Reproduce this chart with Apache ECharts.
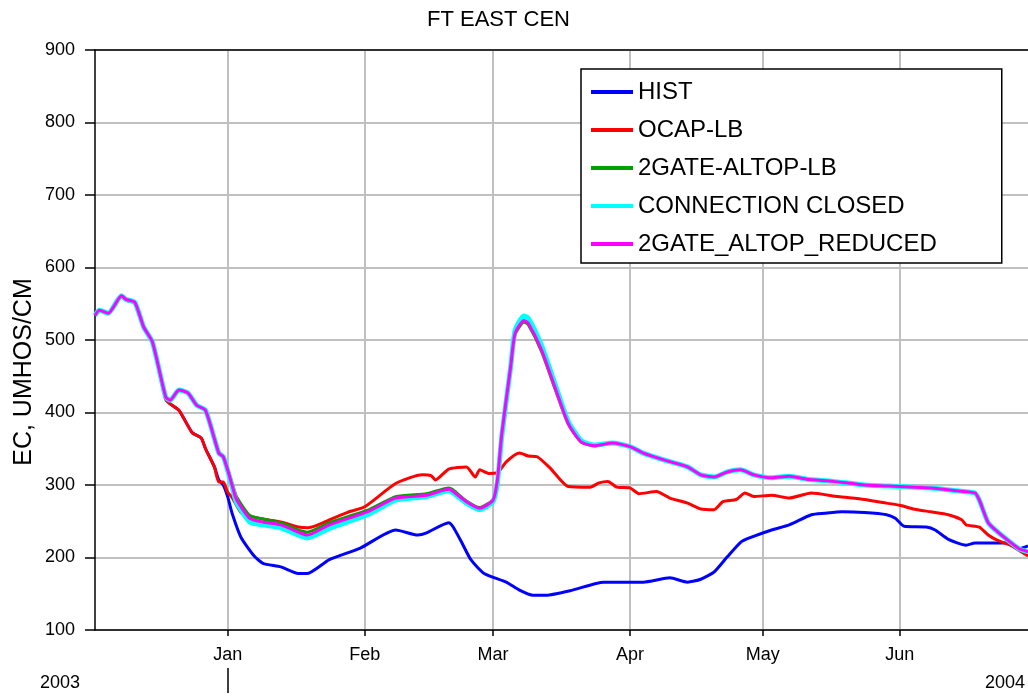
<!DOCTYPE html>
<html>
<head>
<meta charset="utf-8">
<title>FT EAST CEN</title>
<script src="https://cdn.jsdelivr.net/npm/echarts@6.0.0/dist/echarts.min.js"></script>
<style>
    html, body { margin: 0; padding: 0; background: #fff; }
    #lineChart { width: 1028px; height: 698px; }
</style>
</head>
<body>
<div id="lineChart"></div>
<script>
    // axis range + tick labels
    const xStart = '2003-12-02'
    const xEnd = '2004-06-30'
    const monthTicks = ['2004-01-01', '2004-02-01', '2004-03-01', '2004-04-01', '2004-05-01', '2004-06-01']
    const monthNames = ['Jan', 'Feb', 'Mar', 'Apr', 'May', 'Jun']
    const yearTicks = ['2004-01-01']
    const yearLabels = ['2003', '2004']

    const seriesNames = ['HIST', 'OCAP-LB', '2GATE-ALTOP-LB', 'CONNECTION CLOSED', '2GATE_ALTOP_REDUCED']

    // HIST
    const histDates = ['2003-12-02', '2003-12-03', '2003-12-05', '2003-12-08', '2003-12-09', '2003-12-11', '2003-12-13',
        '2003-12-15', '2003-12-18', '2003-12-19', '2003-12-21', '2003-12-24', '2003-12-26', '2003-12-27', '2003-12-29',
        '2003-12-30', '2003-12-31', '2004-01-01', '2004-01-02', '2004-01-04', '2004-01-07', '2004-01-09', '2004-01-13',
        '2004-01-17', '2004-01-19', '2004-01-24', '2004-01-31', '2004-02-08', '2004-02-13', '2004-02-15', '2004-02-20',
        '2004-02-21', '2004-02-23', '2004-02-25', '2004-02-28', '2004-03-04', '2004-03-07', '2004-03-10', '2004-03-13',
        '2004-03-19', '2004-03-26', '2004-04-01', '2004-04-04', '2004-04-10', '2004-04-14', '2004-04-17', '2004-04-20',
        '2004-04-23', '2004-04-26', '2004-04-28', '2004-05-03', '2004-05-07', '2004-05-12', '2004-05-15', '2004-05-19',
        '2004-05-24', '2004-05-29', '2004-05-31', '2004-06-02', '2004-06-07', '2004-06-09', '2004-06-12', '2004-06-16',
        '2004-06-18', '2004-06-22', '2004-06-25', '2004-06-28', '2004-06-30']
    const histValues = [534, 541, 537, 560, 555, 551, 517,
        496, 418, 412, 403, 372, 365, 350, 325,
        307, 300, 284, 261, 228, 202, 192, 187,
        178, 178, 197, 213, 238, 231, 234, 248,
        242, 220, 197, 178, 166, 155, 148, 148,
        155, 166, 166, 166, 172, 166, 170, 180,
        201, 221, 227, 238, 245, 259, 261, 263,
        262, 259, 254, 243, 242, 238, 225, 217,
        220, 220, 220, 212, 216]

    // OCAP-LB
    const ocapDates = ['2003-12-02', '2003-12-03', '2003-12-05', '2003-12-08', '2003-12-09', '2003-12-11', '2003-12-13',
        '2003-12-15', '2003-12-18', '2003-12-19', '2003-12-21', '2003-12-24', '2003-12-26', '2003-12-27', '2003-12-29',
        '2003-12-30', '2003-12-31', '2004-01-01', '2004-01-02', '2004-01-04', '2004-01-06', '2004-01-09', '2004-01-13',
        '2004-01-17', '2004-01-19', '2004-01-21', '2004-01-24', '2004-01-28', '2004-02-01', '2004-02-08', '2004-02-14',
        '2004-02-16', '2004-02-17', '2004-02-20', '2004-02-24', '2004-02-26', '2004-02-27', '2004-02-29', '2004-03-02',
        '2004-03-04', '2004-03-07', '2004-03-09', '2004-03-11', '2004-03-14', '2004-03-18', '2004-03-23', '2004-03-25',
        '2004-03-27', '2004-03-29', '2004-04-01', '2004-04-03', '2004-04-07', '2004-04-10', '2004-04-14', '2004-04-17',
        '2004-04-20', '2004-04-22', '2004-04-25', '2004-04-27', '2004-04-29', '2004-05-03', '2004-05-07', '2004-05-12',
        '2004-05-18', '2004-05-24', '2004-05-29', '2004-06-01', '2004-06-04', '2004-06-08', '2004-06-12', '2004-06-15',
        '2004-06-16', '2004-06-19', '2004-06-21', '2004-06-23', '2004-06-26', '2004-06-30']
    const ocapValues = [534, 541, 537, 560, 555, 551, 517,
        496, 418, 412, 403, 372, 365, 350, 325,
        304, 304, 290, 283, 262, 257, 253, 249,
        242, 241, 244, 252, 262, 270, 302, 314,
        313, 307, 322, 325, 311, 321, 316, 317,
        332, 344, 340, 339, 323, 298, 297, 303,
        305, 297, 296, 288, 291, 282, 275, 267,
        266, 277, 280, 289, 284, 286, 282, 289,
        284, 280, 275, 272, 267, 263, 259, 252,
        245, 242, 231, 224, 217, 202]

    // 2GATE-ALTOP-LB / CONNECTION CLOSED / 2GATE_ALTOP_REDUCED share dates
    const altDates = ['2003-12-02', '2003-12-03', '2003-12-05', '2003-12-08', '2003-12-09', '2003-12-11', '2003-12-13',
        '2003-12-15', '2003-12-18', '2003-12-19', '2003-12-21', '2003-12-23', '2003-12-25', '2003-12-27', '2003-12-30',
        '2003-12-31', '2004-01-01', '2004-01-02', '2004-01-03', '2004-01-06', '2004-01-09', '2004-01-13', '2004-01-17',
        '2004-01-19', '2004-01-24', '2004-02-02', '2004-02-08', '2004-02-15', '2004-02-20', '2004-02-21', '2004-02-24',
        '2004-02-27', '2004-03-01', '2004-03-02', '2004-03-03', '2004-03-05', '2004-03-06', '2004-03-08', '2004-03-09',
        '2004-03-12', '2004-03-15', '2004-03-18', '2004-03-21', '2004-03-24', '2004-03-28', '2004-04-01', '2004-04-04',
        '2004-04-09', '2004-04-14', '2004-04-17', '2004-04-20', '2004-04-23', '2004-04-26', '2004-04-29', '2004-05-03',
        '2004-05-07', '2004-05-11', '2004-05-17', '2004-05-24', '2004-06-01', '2004-06-08', '2004-06-14', '2004-06-18',
        '2004-06-19', '2004-06-21', '2004-06-23', '2004-06-25', '2004-06-28', '2004-06-30']
    const gateLbValues = [534, 541, 537, 561, 556, 552, 518,
        497, 421, 417, 431, 427, 410, 403, 344,
        339, 322, 303, 284, 258, 253, 248, 238,
        235, 248, 266, 284, 288, 296, 293, 278,
        269, 280, 306, 369, 461, 507, 525, 521,
        484, 433, 384, 359, 354, 358, 353, 344,
        334, 325, 314, 311, 318, 321, 314, 310,
        312, 308, 305, 300, 298, 296, 292, 289,
        279, 248, 236, 226, 212, 208]
    const closedValues = [534, 541, 537, 561, 556, 552, 518,
        497, 421, 417, 431, 427, 410, 403, 344,
        339, 320, 298, 276, 249, 245, 241, 231,
        227, 240, 260, 279, 284, 292, 289, 275,
        266, 277, 303, 368, 463, 513, 533, 530,
        492, 440, 388, 361, 355, 358, 353, 344,
        334, 325, 314, 311, 318, 321, 314, 310,
        312, 308, 305, 300, 298, 296, 292, 289,
        279, 248, 236, 226, 212, 208]
    const reducedValues = [534, 541, 537, 561, 556, 552, 518,
        497, 421, 417, 431, 427, 410, 403, 344,
        339, 321, 300, 280, 254, 249, 245, 235,
        231, 245, 264, 282, 286, 294, 291, 277,
        268, 279, 307, 371, 463, 509, 527, 523,
        486, 435, 385, 359, 354, 358, 353, 344,
        334, 325, 314, 311, 318, 321, 314, 310,
        312, 308, 305, 300, 298, 296, 292, 289,
        279, 248, 236, 226, 212, 208]

    const colorList = ['#0000ff', '#ff0000', '#00a000', '#00ffff', '#ff00ff']
    const widthList = [3, 3, 3, 5, 3]
    const FONT = 'Liberation Sans, Arial, sans-serif'

    // local-time timestamp
    function ts(s) {
        let p = s.split('-').map(Number)
        return new Date(p[0], p[1] - 1, p[2]).getTime()
    }

    function pairs(dates, vals) {
        return dates.map((d, i) => [ts(d), vals[i]])
    }

    const seriesData = [
        pairs(histDates, histValues),
        pairs(ocapDates, ocapValues),
        pairs(altDates, gateLbValues),
        pairs(altDates, closedValues),
        pairs(altDates, reducedValues)
    ]

    let series = seriesNames.map((name, i) => ({
        name: name,
        type: 'line',
        xAxisIndex: 0,
        data: seriesData[i],
        showSymbol: false,
        symbol: 'none',
        smooth: 0.2,
        lineStyle: { width: widthList[i], color: colorList[i] },
        itemStyle: { color: colorList[i] },
        emphasis: { disabled: true }
    }))

    // date axes drawn as plain value axes (ms), ticks placed on month starts
    function dateAxis(extra) {
        return Object.assign({
            type: 'value',
            min: ts(xStart),
            max: ts(xEnd),
            scale: true,
            axisLine: { show: false },
            axisTick: { show: false },
            axisLabel: { show: false },
            splitLine: { show: false }
        }, extra)
    }

    let myChart = echarts.init(document.getElementById('lineChart'))
    myChart.setOption({
        animation: false,
        color: colorList,
        title: {
            text: 'FT EAST CEN',
            left: 427,
            top: 9,
            padding: 0,
            textStyle: { fontFamily: FONT, fontSize: 22, fontWeight: 'normal', color: '#000' }
        },
        grid: { left: 95, right: 0, top: 50, bottom: 68 },
        legend: {
            data: seriesNames,
            orient: 'vertical',
            left: 581,
            top: 69,
            icon: 'rect',
            itemWidth: 42,
            itemHeight: 4,
            itemGap: 14,
            padding: [11, 65, 7, 10],
            backgroundColor: '#fff',
            borderColor: '#000',
            borderWidth: 1.5,
            borderRadius: 0,
            selectedMode: false,
            textStyle: { fontFamily: FONT, fontSize: 24, color: '#000' }
        },
        xAxis: [
            dateAxis({
                axisLine: { show: true, onZero: false, lineStyle: { color: '#000', width: 1.5 } },
                axisTick: { show: true, length: 6, inside: false, lineStyle: { color: '#000', width: 1.5 },
                    customValues: monthTicks.map(ts) },
                axisLabel: {
                    show: true,
                    customValues: monthTicks.map(ts),
                    margin: 16,
                    color: '#000',
                    fontFamily: FONT,
                    fontSize: 18,
                    formatter: v => monthNames[new Date(v).getMonth()]
                },
                splitLine: { show: true, lineStyle: { color: '#c0c0c0', width: 2 } }
            }),
            // top border
            dateAxis({
                position: 'top',
                axisLine: { show: true, onZero: false, lineStyle: { color: '#000', width: 1.5 } }
            }),
            // year separator
            dateAxis({
                position: 'bottom',
                offset: 38,
                axisTick: { show: true, length: 25, inside: false, lineStyle: { color: '#000', width: 1.5 },
                    customValues: yearTicks.map(ts) }
            })
        ],
        yAxis: {
            type: 'value',
            min: 100,
            max: 900,
            interval: 100,
            axisLine: { show: true, lineStyle: { color: '#000', width: 1.5 } },
            axisTick: { show: true, length: 10, inside: false, lineStyle: { color: '#000', width: 1.5 } },
            axisLabel: { margin: 20, color: '#000', fontFamily: FONT, fontSize: 18 },
            splitLine: { show: true, lineStyle: { color: '#c0c0c0', width: 2 } }
        },
        graphic: [
            {
                type: 'text', x: 24, y: 372, rotation: Math.PI / 2,
                style: { text: 'EC, UMHOS/CM', font: '25px ' + FONT, fill: '#000', align: 'center', verticalAlign: 'middle' }
            },
            {
                type: 'text', x: 60, y: 683,
                style: { text: yearLabels[0], font: '18px ' + FONT, fill: '#000', align: 'center', verticalAlign: 'middle' }
            },
            {
                type: 'text', x: 1005, y: 683,
                style: { text: yearLabels[1], font: '18px ' + FONT, fill: '#000', align: 'center', verticalAlign: 'middle' }
            }
        ],
        series: series
    })
</script>
</body>
</html>
